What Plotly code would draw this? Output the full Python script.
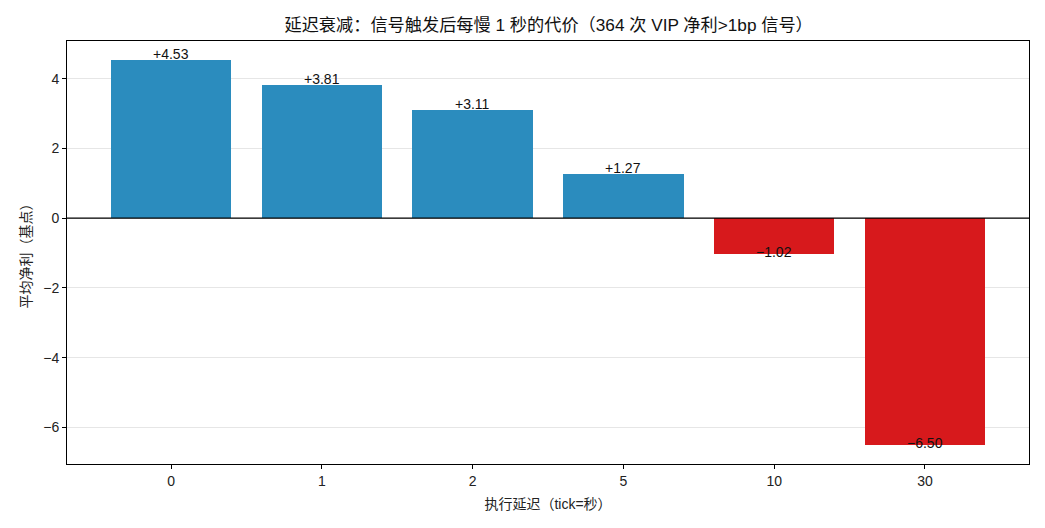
import plotly.graph_objects as go

delays = ["0", "1", "2", "5", "10", "30"]
net_bp = [4.53, 3.81, 3.11, 1.27, -1.02, -6.50]

title = "延迟衰减：信号触发后每慢 1 秒的代价（364 次 VIP 净利>1bp 信号）"
xlabel = "执行延迟（tick=秒）"
ylabel = "平均净利（基点）"

FONT = "Liberation Sans, Noto Sans CJK SC, sans-serif"
pos = list(range(len(delays)))
colors = ["#2b8cbe" if v >= 0 else "#d7191c" for v in net_bp]

fig = go.Figure()
fig.add_trace(go.Bar(x=pos, y=net_bp, width=0.8, marker=dict(color=colors, line=dict(width=0)),
                     showlegend=False, hoverinfo="skip"))

def fmt(v):
    return ("+" if v >= 0 else "\u2212") + f"{abs(v):.2f}"

for p, v in zip(pos, net_bp):
    if v >= 0:
        fig.add_annotation(x=p, y=v, text=fmt(v), showarrow=False, yanchor="bottom", yshift=-4,
                           font=dict(family=FONT, size=14, color="#111"))
    else:
        fig.add_annotation(x=p, y=v, text=fmt(v), showarrow=False, yanchor="middle", yshift=2,
                           font=dict(family=FONT, size=14, color="#111"))

fig.add_shape(type="line", xref="paper", x0=0, x1=1, yref="y", y0=0, y1=0,
              line=dict(color="black", width=1.2))

fig.update_layout(
    width=1045, height=528,
    margin=dict(l=67, r=16, t=41, b=64),
    paper_bgcolor="white", plot_bgcolor="white",
    font=dict(family=FONT, size=14, color="#222"),
    title=dict(text=title, x=0.525, xanchor="center", y=0.952, yanchor="middle",
               font=dict(family=FONT, size=17.2, color="#111")),
    bargap=0,
)
fig.update_xaxes(range=[-0.69, 5.69], tickvals=pos, ticktext=delays,
                 showline=True, linecolor="black", linewidth=1, mirror=True,
                 ticks="outside", ticklen=4, tickcolor="black", showgrid=False, zeroline=False,
                 title=dict(text=xlabel, font=dict(family=FONT, size=14), standoff=11),
                 tickfont=dict(family=FONT, size=14))
fig.update_yaxes(range=[-7.05, 5.08], tickvals=[-6, -4, -2, 0, 2, 4],
                 ticktext=["\u22126", "\u22124", "\u22122", "0", "2", "4"],
                 showline=True, linecolor="black", linewidth=1, mirror=True,
                 ticks="outside", ticklen=4, tickcolor="black",
                 showgrid=True, gridcolor="#e6e6e6", gridwidth=1, zeroline=False,
                 title=dict(text=ylabel, font=dict(family=FONT, size=14), standoff=8),
                 tickfont=dict(family=FONT, size=14))

fig.write_html("out.html")
